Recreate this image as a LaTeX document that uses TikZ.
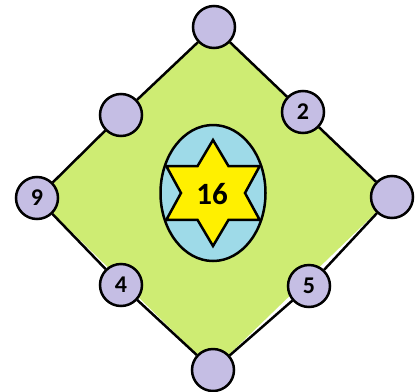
\documentclass[tikz,border=0pt]{standalone}
\usepackage{fontspec}
\setmainfont{Carlito}
\usetikzlibrary{shapes.geometric}
\definecolor{dgreen}{RGB}{206,236,115}
\definecolor{lav}{RGB}{197,190,228}
\definecolor{lblue}{RGB}{158,218,232}
\definecolor{staryellow}{RGB}{255,240,0}
\begin{document}
\begin{tikzpicture}[x=1pt,y=-1pt,
  dot/.style={circle,draw=black,line width=2.5pt,fill=lav,minimum size=42pt,inner sep=0pt,font=\fontsize{24}{24}\selectfont\bfseries},
  edge/.style={line width=2.5pt}]
\useasboundingbox (0,0) rectangle (417,391);
\coordinate (T) at (214,27);
\coordinate (R) at (392,197);
\coordinate (B) at (213,370);
\coordinate (L) at (37,198);
\fill[dgreen] (T) -- (R) -- (B) -- (L) -- cycle;
\node[ellipse,draw=black,line width=2.5pt,fill=lblue,minimum width=105pt,minimum height=136pt,inner sep=0pt] (ell) at (213,193) {};
\begin{scope}[shift={(213,193)}]
\draw[line width=2.5pt,fill=staryellow,line join=miter]
  (90:53) -- (120:31) -- (150:54) -- (180:32) -- (210:54) -- (240:31) --
  (270:53) -- (300:31) -- (330:54) -- (0:32) -- (30:54) -- (60:31) -- cycle;
\end{scope}
\node[font=\fontsize{31}{31}\selectfont\bfseries] (c) at (212,194) {16};
\node[dot] (nT) at (T) {};
\node[dot] (nR) at (R) {};
\node[dot] (nB) at (B) {};
\node[dot] (nL) at (L) {9};
\node[dot] (nTL) at (121,115) {};
\node[dot] (nTR) at (303,112) {2};
\node[dot] (nBL) at (121,285) {4};
\node[dot] (nBR) at (309,286) {5};
\draw[edge] (nT) -- (nTR);
\draw[edge] (nTR) -- (nR);
\draw[edge] (nR) -- (nBR);
\draw[edge] (nBR) -- (nB);
\draw[edge] (nB) -- (nBL);
\draw[edge] (nBL) -- (nL);
\draw[edge] (nL) -- (nTL);
\draw[edge] (nTL) -- (nT);
\end{tikzpicture}
\end{document}
